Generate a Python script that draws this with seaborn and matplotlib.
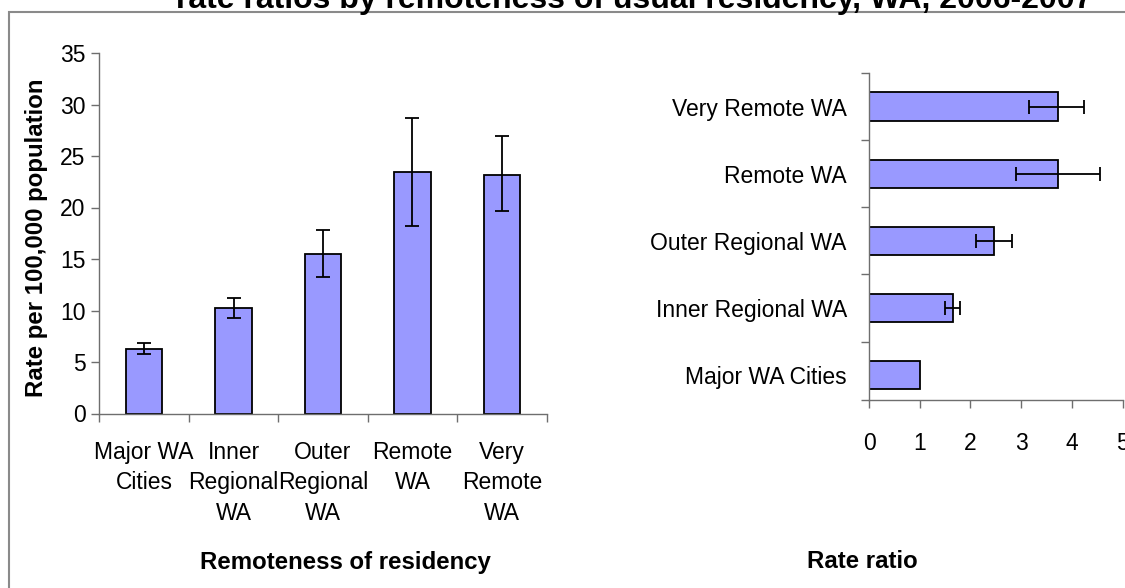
import numpy as np
import pandas as pd
import matplotlib
matplotlib.use('Agg')
import matplotlib.pyplot as plt
import matplotlib.patches as mpatches
import seaborn as sns

# Data
regions = ['Major WA\nCities', 'Inner\nRegional\nWA', 'Outer\nRegional\nWA',
           'Remote\nWA', 'Very\nRemote\nWA']
rates = [6.3, 10.2, 15.5, 23.4, 23.2]
rate_lo = [5.8, 9.3, 13.3, 18.2, 19.7]
rate_hi = [6.8, 11.2, 17.8, 28.7, 26.9]

ratio_cats = ['Very Remote WA', 'Remote WA', 'Outer Regional WA',
              'Inner Regional WA', 'Major WA Cities']
ratios = [3.73, 3.73, 2.47, 1.65, 1.0]
ratio_lo = [3.16, 2.90, 2.12, 1.49, 1.0]
ratio_hi = [4.24, 4.55, 2.82, 1.80, 1.0]

title = 'rate ratios by remoteness of usual residency, WA, 2006-2007'

BAR = '#9999FF'
AXC = '#6e6e6e'
TICK_FS = 16.5
LABEL_FS = 17.3

sns.set_theme(style='white')
plt.rcParams['font.family'] = ['Liberation Sans', 'DejaVu Sans']
plt.rcParams['text.color'] = 'black'
plt.rcParams['xtick.color'] = 'black'
plt.rcParams['ytick.color'] = 'black'

fig = plt.figure(figsize=(11.25, 5.88), dpi=100)

# frame around the chart area (runs off right/bottom edges)
fig.patches.append(mpatches.Rectangle((9 / 1125, -0.1), 1.2, 1 - 12 / 588 + 0.1,
                                      transform=fig.transFigure, fill=False,
                                      edgecolor='#8a8a8a', linewidth=1.5))

fig.text(634 / 1125, 1 - 8 / 588, title, ha='center', va='baseline',
         fontsize=23, fontweight='bold')

# --- left: rates ---
ax1 = fig.add_axes([99.3 / 1125, 1 - 413.5 / 588, 447.4 / 1125, 360.5 / 588])
df1 = pd.DataFrame({'region': regions, 'rate': rates})
sns.barplot(data=df1, x='region', y='rate', color=BAR, saturation=1,
            width=0.41, edgecolor='black', linewidth=1.3, ax=ax1)
x1 = np.arange(len(regions))
ax1.errorbar(x1, rates,
             yerr=[np.array(rates) - np.array(rate_lo), np.array(rate_hi) - np.array(rates)],
             fmt='none', ecolor='black', elinewidth=1.3, capsize=4.7, capthick=1.3)
ax1.set_ylim(0, 35)
ax1.set_xlim(-0.49, 4.47)
ax1.set_yticks(range(0, 36, 5))
ax1.set_xticks(np.arange(-0.5, 4.6, 1.0))
ax1.set_xticklabels([])
ax1.set_xticks(x1, minor=True)
ax1.set_xticklabels(regions, minor=True, linespacing=1.42)
ax1.tick_params(axis='x', which='minor', length=0, pad=19.5, labelsize=TICK_FS)
ax1.tick_params(axis='x', which='major', length=6, width=1, color=AXC, direction='out', bottom=True)
ax1.tick_params(axis='y', length=6, width=1, color=AXC, direction='out', left=True,
                labelsize=TICK_FS, pad=4)
for s in ['top', 'right']:
    ax1.spines[s].set_visible(False)
for s in ['left', 'bottom']:
    ax1.spines[s].set_color(AXC)
    ax1.spines[s].set_linewidth(1)
ax1.set_xlabel('')
ax1.set_ylabel('')
fig.text(37 / 1125, 1 - 238 / 588, 'Rate per 100,000 population', rotation=90,
         ha='center', va='center', fontsize=LABEL_FS, fontweight='bold')
fig.text(345 / 1125, 1 - 562 / 588, 'Remoteness of residency',
         ha='center', va='center', fontsize=LABEL_FS, fontweight='bold')

# --- right: rate ratios ---
ax2 = fig.add_axes([869 / 1125, 1 - 400 / 588, 253.5 / 1125, 327 / 588])
df2 = pd.DataFrame({'cat': ratio_cats, 'ratio': ratios})
sns.barplot(data=df2, x='ratio', y='cat', orient='h', color=BAR, saturation=1,
            width=0.42, edgecolor='black', linewidth=1.3, ax=ax2)
y2 = np.arange(len(ratio_cats))
err_lo = np.array(ratios) - np.array(ratio_lo)
err_hi = np.array(ratio_hi) - np.array(ratios)
has_err = (err_lo > 0) | (err_hi > 0)
ax2.errorbar(np.array(ratios)[has_err], y2[has_err],
             xerr=[err_lo[has_err], err_hi[has_err]],
             fmt='none', ecolor='black', elinewidth=1.3, capsize=4.7, capthick=1.3)
ax2.set_xlim(0, 5)
ax2.set_ylim(4.37, -0.5)
ax2.set_xticks(range(0, 6))
ax2.set_yticks([-0.5, 0.5, 1.5, 2.5, 3.5, 4.37])
ax2.set_yticklabels([])
ax2.set_yticks(y2, minor=True)
ax2.set_yticklabels(ratio_cats, minor=True)
ax2.tick_params(axis='y', which='minor', length=0, pad=16, labelsize=TICK_FS)
ax2.tick_params(axis='y', which='major', length=6, width=1, color=AXC, direction='out', left=True)
ax2.tick_params(axis='x', length=6, width=1, color=AXC, direction='out', bottom=True,
                labelsize=TICK_FS, pad=17)
for s in ['top', 'right']:
    ax2.spines[s].set_visible(False)
for s in ['left', 'bottom']:
    ax2.spines[s].set_color(AXC)
    ax2.spines[s].set_linewidth(1)
ax2.set_xlabel('')
ax2.set_ylabel('')
fig.text(862.5 / 1125, 1 - 561 / 588, 'Rate ratio',
         ha='center', va='center', fontsize=LABEL_FS, fontweight='bold')

fig.savefig('out.png', dpi=100)
